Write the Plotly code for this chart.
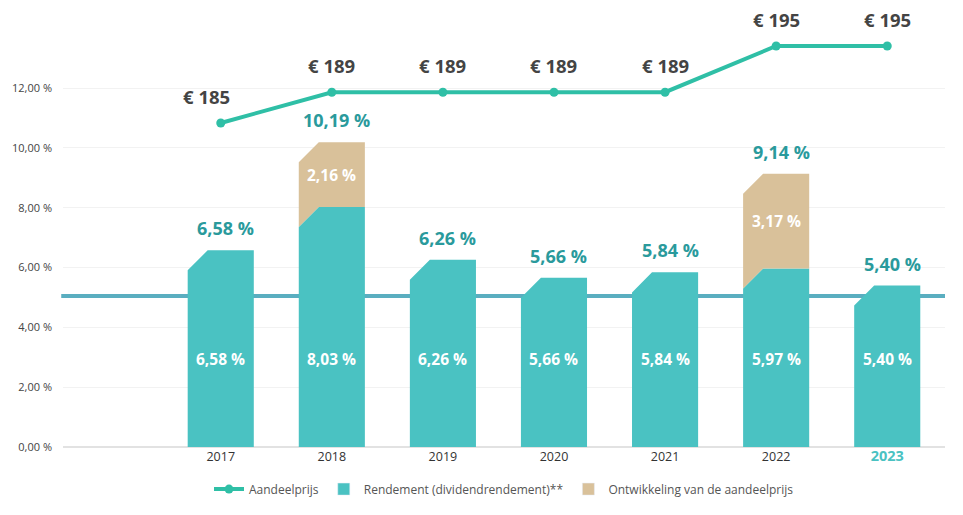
import plotly.graph_objects as go

# ---------------- data ----------------
years = [2017, 2018, 2019, 2020, 2021, 2022, 2023]
rendement = [6.58, 8.03, 6.26, 5.66, 5.84, 5.97, 5.40]          # dividendrendement (%)
ontwikkeling = [0, 2.16, 0, 0, 0, 3.17, 0]                       # ontwikkeling aandeelprijs (%)
totaal = [6.58, 10.19, 6.26, 5.66, 5.84, 9.14, 5.40]             # totaal rendement (%)
aandeelprijs = [185, 189, 189, 189, 189, 195, 195]               # EUR
benchmark = 5.05
y_tickvals = [0, 2, 4, 6, 8, 10, 12]
y_ticktext = ["0,00 %", "2,00 %", "4,00 %", "6,00 %", "8,00 %", "10,00 %", "12,00 %"]

TEAL = "#4ac2c2"
BEIGE = "#d9c19a"
LINE = "#2fbfa6"
LABEL_TEAL = "#2a9a9c"
BENCH = "#5aaec0"
FONT = "Open Sans"

def pct(v):
    return f"{v:.2f}".replace(".", ",") + " %"

BW = 0.595       # bar width (x units)
CW = 0.18        # chamfer width (x units)
CH = 0.67        # chamfer height (y units)

# build chamfered bar polygons from the data
tx, ty, bx, by = [], [], [], []
for x, r, o in zip(years, rendement, ontwikkeling):
    l, rr = x - BW / 2, x + BW / 2
    tx += [l, l, l + CW, rr, rr, l, None]
    ty += [0, r - CH, r, r, 0, 0, None]
    if o > 0:
        t = r + o
        bx += [l, l, l + CW, rr, rr, l + CW, l, None]
        by += [r - CH, t - CH, t, t, r, r, r - CH, None]

fig = go.Figure()
fig.add_trace(go.Scatter(x=tx, y=ty, fill="toself", fillcolor=TEAL, mode="lines",
                         line=dict(width=0, color=TEAL), showlegend=False, hoverinfo="skip"))
fig.add_trace(go.Scatter(x=bx, y=by, fill="toself", fillcolor=BEIGE, mode="lines",
                         line=dict(width=0, color=BEIGE), showlegend=False, hoverinfo="skip"))
fig.add_trace(go.Scatter(x=years, y=aandeelprijs, yaxis="y2", mode="lines+markers",
                         line=dict(color=LINE, width=4), marker=dict(size=9, color=LINE),
                         name="Aandeelprijs", legendrank=1))
# legend entries for the bar series (square icons)
fig.add_trace(go.Bar(x=[None], y=[None], marker_color=TEAL,
                     name="Rendement (dividendrendement)**", legendrank=2))
fig.add_trace(go.Bar(x=[None], y=[None], marker_color=BEIGE,
                     name="Ontwikkeling van de aandeelprijs", legendrank=3))

ann = []
for i, (x, p) in enumerate(zip(years, aandeelprijs)):
    ann.append(dict(x=x, y=p, xref="x", yref="y2", text=f"<b>€ {p}</b>", showarrow=False,
                    yshift=27, xshift=-14 if i == 0 else 0,
                    font=dict(family=FONT, size=18.5, color="#444444")))
for x, t in zip(years, totaal):
    ann.append(dict(x=x, y=t, xref="x", yref="y", text=f"<b>{pct(t)}</b>", showarrow=False,
                    yshift=22, xshift=5, font=dict(family=FONT, size=18, color=LABEL_TEAL)))
for x, r in zip(years, rendement):
    ann.append(dict(x=x, y=2.95, xref="x", yref="y", text=f"<b>{pct(r)}</b>", showarrow=False,
                    font=dict(family=FONT, size=15.5, color="white")))
for x, r, o in zip(years, rendement, ontwikkeling):
    if o > 0:
        ann.append(dict(x=x, y=r + o / 2, xref="x", yref="y", text=f"<b>{pct(o)}</b>",
                        showarrow=False, font=dict(family=FONT, size=15.5, color="white")))

x_ticktext = [str(y) for y in years[:-1]] + [
    f"<b><span style='color:{TEAL};font-size:14.5px'>{years[-1]}</span></b>"]

# the page body has an 8px default margin; margins below compensate for it
fig.update_layout(
    width=963, height=515,
    margin=dict(l=55, r=26, t=12, b=76, autoexpand=False),
    plot_bgcolor="white", paper_bgcolor="white",
    font=dict(family=FONT, color="#444444"),
    showlegend=True,
    legend=dict(orientation="h", x=0.5, xanchor="center", yref="container", y=0.094, yanchor="top",
                font=dict(family=FONT, size=12, color="#555555"), itemwidth=30,
                traceorder="normal"),
    xaxis=dict(range=[2015.58, 2023.52], tickvals=years, ticktext=x_ticktext, automargin=False,
               showgrid=False, zeroline=False, showline=False, ticks="",
               tickfont=dict(family=FONT, size=12.5, color="#333333")),
    yaxis=dict(range=[0, 14.28], tickvals=y_tickvals, ticktext=y_ticktext, automargin=False,
               showgrid=True, gridcolor="#f2f2f2", gridwidth=1,
               zeroline=True, zerolinecolor="#e2e2e2", zerolinewidth=1.5,
               tickfont=dict(family=FONT, size=11, color="#444444"), ticklabelstandoff=10),
    yaxis2=dict(range=[142.92, 198.38], overlaying="y", side="right", visible=False),
    annotations=ann,
    shapes=[dict(type="line", xref="paper", yref="y", x0=-0.002, x1=1, y0=benchmark, y1=benchmark,
                 line=dict(color=BENCH, width=4), layer="below")],
)

fig.write_html("out.html")
